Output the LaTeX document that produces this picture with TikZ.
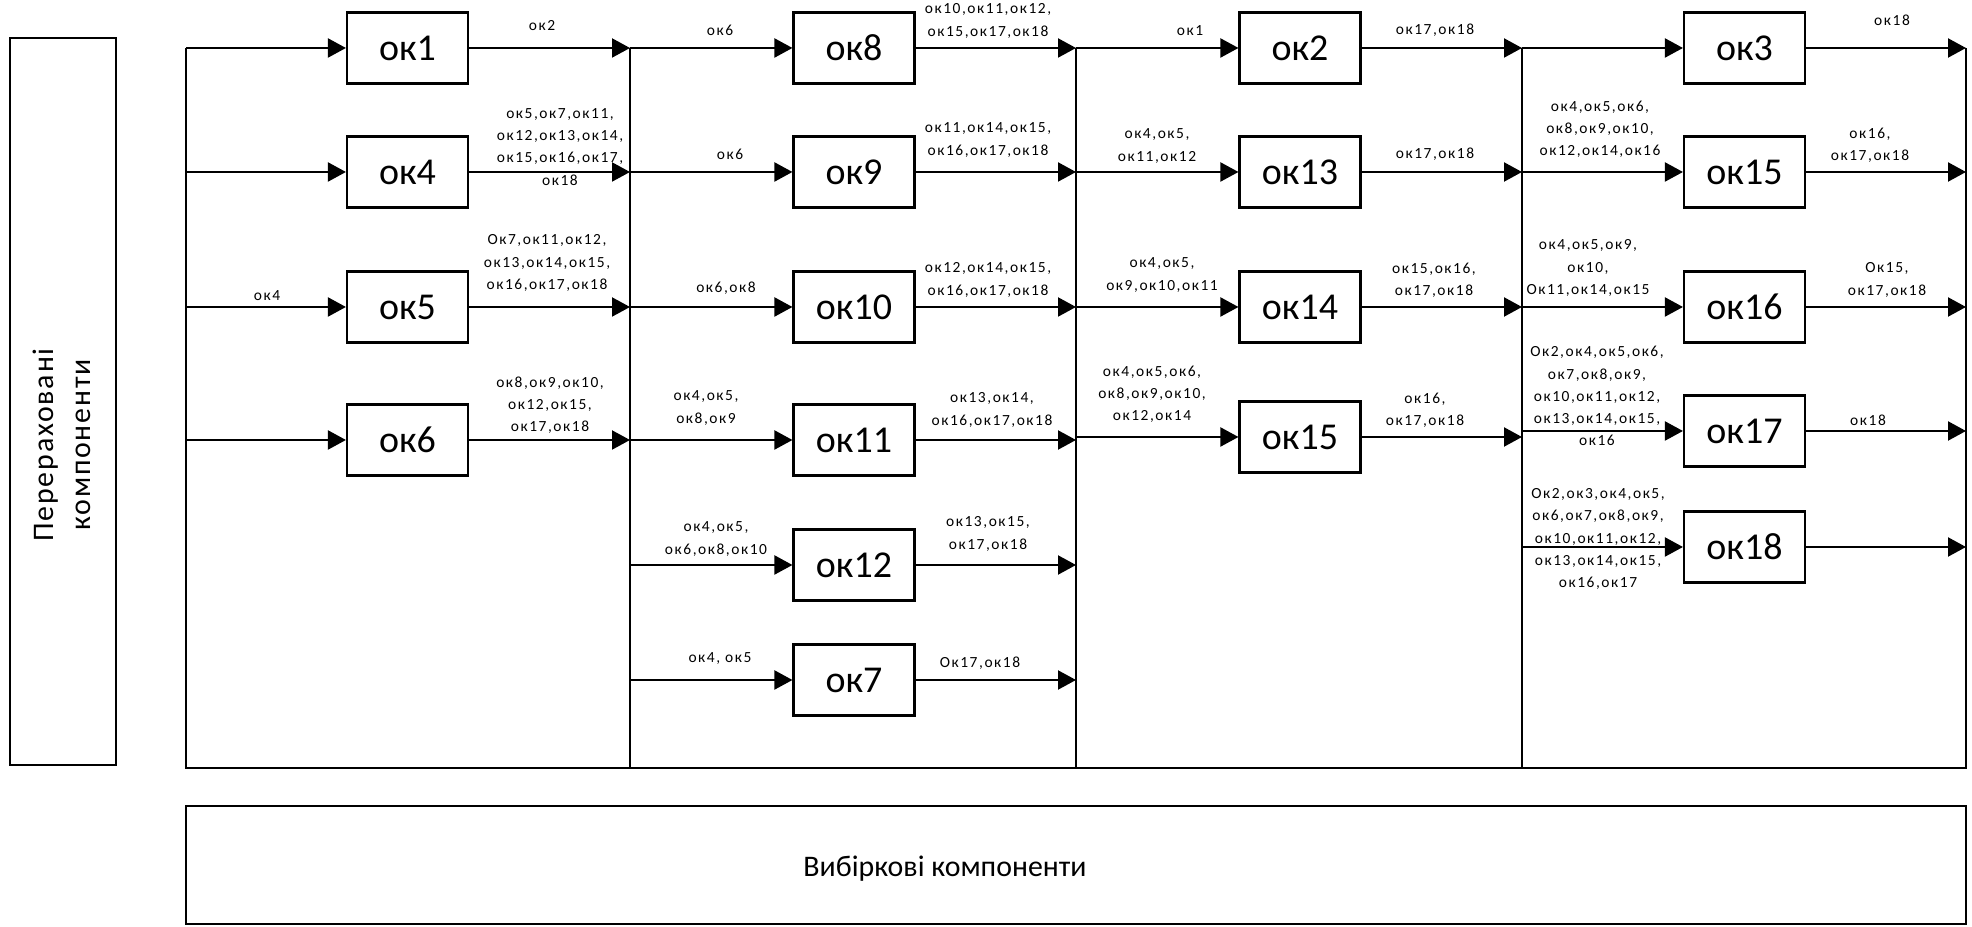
\documentclass[tikz,border=0pt]{standalone}
\usepackage{fontspec}
\setmainfont{Carlito}
\newfontfamily\rozr[LetterSpace=10]{Carlito}
\newfontfamily\bokova[LetterSpace=6]{Carlito}
\usetikzlibrary{arrows.meta}

\begin{document}
\begin{tikzpicture}[x=0.1mm, y=-0.1mm, line width=0.6pt,
    blok/.style={draw, minimum width=12.1mm, minimum height=7.1mm, inner sep=0pt, font=\fontsize{10.8}{13}\selectfont},
    mitka/.style={inner sep=0pt, align=center, font=\rozr\fontsize{4.4}{6.3}\selectfont},
    strilka/.style={-{Triangle[length=1.8mm, width=1.9mm]}}]
  \useasboundingbox (0,0) rectangle (1972,927);

  % рамка і колонки
  \coordinate (fa) at (186,48);
  \coordinate (fb) at (630,48);
  \coordinate (fc) at (1076,48);
  \coordinate (fd) at (1522,48);
  \coordinate (fe) at (1966,48);
  \draw (fa) -- (186,768) -- (1966,768) -- (fe);
  \draw (fb) -- (630,768);
  \draw (fc) -- (1076,768);
  \draw (fd) -- (1522,768);

  \node[draw, minimum width=10.6mm, minimum height=72.7mm, inner sep=0pt] (side) at (63,401.5) {};
  \node[rotate=90, align=center, font=\bokova\fontsize{8.5}{10.5}\selectfont] (sidetxt) at (62,445) {Перераховані\\компоненти};
  \node[draw, minimum width=178mm, minimum height=11.8mm, inner sep=0pt] (bottom) at (1076,865) {};
  \node[font=\fontsize{8.5}{10}\selectfont] (bottxt) at (945,869) {Вибіркові компоненти};

  % колонка 1
  \node[blok] (k1) at (407.5,48) {ок1};
  \node[blok] (k4) at (407.5,172) {ок4};
  \node[blok] (k5) at (407.5,307) {ок5};
  \node[blok] (k6) at (407.5,440) {ок6};
  \draw[strilka] (k1 -| fa) -- (k1);
  \draw[strilka] (k4 -| fa) -- (k4);
  \draw[strilka] (k5 -| fa) -- (k5);
  \draw[strilka] (k6 -| fa) -- (k6);
  \draw[strilka] (k1) -- (k1 -| fb);
  \draw[strilka] (k4) -- (k4 -| fb);
  \draw[strilka] (k5) -- (k5 -| fb);
  \draw[strilka] (k6) -- (k6 -| fb);
  \node[mitka] (i5) at (267,296) {ок4};
  \node[mitka] (o1) at (542,26) {ок2};
  \node[mitka] (o4) at (560,147) {ок5,ок7,ок11,\\ок12,ок13,ок14,\\ок15,ок16,ок17,\\ок18};
  \node[mitka] (o5) at (547,263) {Ок7,ок11,ок12,\\ок13,ок14,ок15,\\ок16,ок17,ок18};
  \node[mitka] (o6) at (550,405) {ок8,ок9,ок10,\\ок12,ок15,\\ок17,ок18};

  % колонка 2
  \node[blok] (k8) at (854,48) {ок8};
  \node[blok] (k9) at (854,172) {ок9};
  \node[blok] (k10) at (854,307) {ок10};
  \node[blok] (k11) at (854,440) {ок11};
  \node[blok] (k12) at (854,565) {ок12};
  \node[blok] (k7) at (854,680) {ок7};
  \draw[strilka] (k8 -| fb) -- (k8);
  \draw[strilka] (k9 -| fb) -- (k9);
  \draw[strilka] (k10 -| fb) -- (k10);
  \draw[strilka] (k11 -| fb) -- (k11);
  \draw[strilka] (k12 -| fb) -- (k12);
  \draw[strilka] (k7 -| fb) -- (k7);
  \draw[strilka] (k8) -- (k8 -| fc);
  \draw[strilka] (k9) -- (k9 -| fc);
  \draw[strilka] (k10) -- (k10 -| fc);
  \draw[strilka] (k11) -- (k11 -| fc);
  \draw[strilka] (k12) -- (k12 -| fc);
  \draw[strilka] (k7) -- (k7 -| fc);
  \node[mitka] (i8) at (720,30) {ок6};
  \node[mitka] (i9) at (730,154) {ок6};
  \node[mitka] (i10) at (726,288) {ок6,ок8};
  \node[mitka] (i11) at (706,408) {ок4,ок5,\\ок8,ок9};
  \node[mitka] (i12) at (716,539) {ок4,ок5,\\ок6,ок8,ок10};
  \node[mitka] (i7) at (720,659) {ок4, ок5};
  \node[mitka] (o8) at (988,21) {ок10,ок11,ок12,\\ок15,ок17,ок18};
  \node[mitka] (o9) at (988,140) {ок11,ок14,ок15,\\ок16,ок17,ок18};
  \node[mitka] (o10) at (988,280) {ок12,ок14,ок15,\\ок16,ок17,ок18};
  \node[mitka] (o11) at (992,410) {ок13,ок14,\\ок16,ок17,ок18};
  \node[mitka] (o12) at (988,534) {ок13,ок15,\\ок17,ок18};
  \node[mitka] (o7) at (980,663) {Ок17,ок18};

  % колонка 3
  \node[blok] (k2) at (1300,48) {ок2};
  \node[blok] (k13) at (1300,172) {ок13};
  \node[blok] (k14) at (1300,307) {ок14};
  \node[blok] (k15c) at (1300,437) {ок15};
  \draw[strilka] (k2 -| fc) -- (k2);
  \draw[strilka] (k13 -| fc) -- (k13);
  \draw[strilka] (k14 -| fc) -- (k14);
  \draw[strilka] (k15c -| fc) -- (k15c);
  \draw[strilka] (k2) -- (k2 -| fd);
  \draw[strilka] (k13) -- (k13 -| fd);
  \draw[strilka] (k14) -- (k14 -| fd);
  \draw[strilka] (k15c) -- (k15c -| fd);
  \node[mitka] (i2) at (1190,31) {ок1};
  \node[mitka] (i13) at (1157,146) {ок4,ок5,\\ок11,ок12};
  \node[mitka] (i14) at (1162,275) {ок4,ок5,\\ок9,ок10,ок11};
  \node[mitka] (i15c) at (1152,394) {ок4,ок5,ок6,\\ок8,ок9,ок10,\\ок12,ок14};
  \node[mitka] (o2) at (1435,30) {ок17,ок18};
  \node[mitka] (o13) at (1435,154) {ок17,ок18};
  \node[mitka] (o14) at (1434,280) {ок15,ок16,\\ок17,ок18};
  \node[mitka] (o15c) at (1425,410) {ок16,\\ок17,ок18};

  % колонка 4
  \node[blok] (k3) at (1744.5,48) {ок3};
  \node[blok] (k15d) at (1744.5,172) {ок15};
  \node[blok] (k16) at (1744.5,307) {ок16};
  \node[blok] (k17) at (1744.5,431) {ок17};
  \node[blok] (k18) at (1744.5,547) {ок18};
  \draw[strilka] (k3 -| fd) -- (k3);
  \draw[strilka] (k15d -| fd) -- (k15d);
  \draw[strilka] (k16 -| fd) -- (k16);
  \draw[strilka] (k17 -| fd) -- (k17);
  \draw[strilka] (k18 -| fd) -- (k18);
  \draw[strilka] (k3) -- (k3 -| fe);
  \draw[strilka] (k15d) -- (k15d -| fe);
  \draw[strilka] (k16) -- (k16 -| fe);
  \draw[strilka] (k17) -- (k17 -| fe);
  \draw[strilka] (k18) -- (k18 -| fe);
  \node[mitka] (i15d) at (1600,129) {ок4,ок5,ок6,\\ок8,ок9,ок10,\\ок12,ок14,ок16};
  \node[mitka] (i16) at (1588,268) {ок4,ок5,ок9,\\ок10,\\Ок11,ок14,ок15};
  \node[mitka] (i17) at (1597,396) {Ок2,ок4,ок5,ок6,\\ок7,ок8,ок9,\\ок10,ок11,ок12,\\ок13,ок14,ок15,\\ок16};
  \node[mitka] (i18) at (1598,539) {Ок2,ок3,ок4,ок5,\\ок6,ок7,ок8,ок9,\\ок10,ок11,ок12,\\ок13,ок14,ок15,\\ок16,ок17};
  \node[mitka] (o3) at (1892,20) {ок18};
  \node[mitka] (o15d) at (1870,145) {ок16,\\ок17,ок18};
  \node[mitka] (o16) at (1887,280) {Ок15,\\ок17,ок18};
  \node[mitka] (o17) at (1868,420) {ок18};
\end{tikzpicture}
\end{document}
